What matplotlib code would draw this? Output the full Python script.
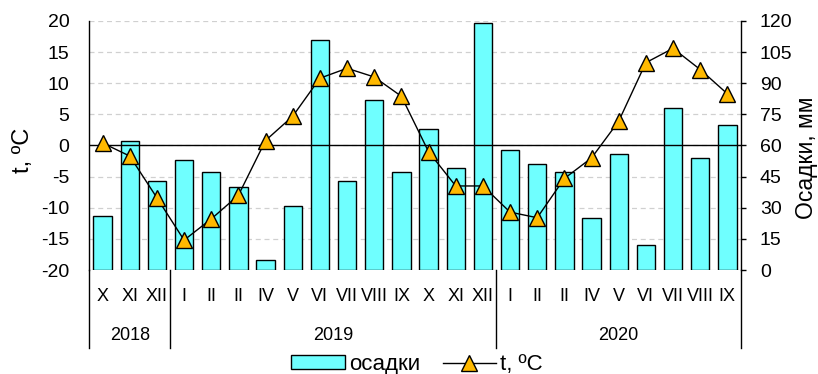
import matplotlib.pyplot as plt
import matplotlib.transforms as mtransforms
from matplotlib import font_manager
from matplotlib.patches import Patch
from matplotlib.lines import Line2D

months = ['X', 'XI', 'XII', 'I', 'II', 'II', 'IV', 'V', 'VI', 'VII', 'VIII', 'IX',
          'X', 'XI', 'XII', 'I', 'II', 'II', 'IV', 'V', 'VI', 'VII', 'VIII', 'IX']
years = ['2018', '2019', '2020']
year_len = [3, 12, 9]
precip = [26, 62, 43, 53, 47, 40, 5, 31, 111, 43, 82, 47,
          68, 49, 119, 58, 51, 47, 25, 56, 12, 78, 54, 70]
temp = [0.4, -1.7, -8.4, -15.2, -11.8, -8.0, 0.8, 4.7, 10.8, 12.4, 11.0, 7.9,
        -1.0, -6.5, -6.5, -10.7, -11.6, -5.3, -2.0, 3.9, 13.3, 15.6, 12.2, 8.3]

plt.rcParams['font.family'] = ['Liberation Sans', 'DejaVu Sans']
plt.rcParams['axes.unicode_minus'] = False
names = {f.name for f in font_manager.fontManager.ttflist}
if 'Liberation Sans Narrow' in names:
    cat_font = dict(family=['Liberation Sans Narrow', 'DejaVu Sans'], fontsize=14.5)
else:
    cat_font = dict(family=['Liberation Sans', 'DejaVu Sans'], fontsize=13)

fig = plt.figure(figsize=(8.18, 3.74), dpi=100)
ax1 = fig.add_axes([0.1088, 0.278, 0.797, 0.666])
ax2 = ax1.twinx()
ax1.set_zorder(ax2.get_zorder() + 1)
ax1.patch.set_visible(False)

x = list(range(len(months)))

# precipitation bars on the right axis
ax2.bar(x, precip, width=0.675, color='#6FFFFF', edgecolor='black', linewidth=1, zorder=3)
ax2.set_ylim(0, 120)
ax2.set_yticks(range(0, 121, 15))
ax2.yaxis.grid(True, linestyle=(0, (4, 3)), color='#D0D0D0', linewidth=0.9, zorder=0)
ax2.set_axisbelow(True)

# temperature line on the left axis
ax1.axhline(0, color='black', linewidth=1, zorder=2)
ax1.plot(x, temp, color='black', linewidth=1, marker='^', markersize=11.5,
         markerfacecolor='#FFB900', markeredgecolor='black', markeredgewidth=1, zorder=4)
ax1.set_ylim(-20, 20)
ax1.set_yticks(range(-20, 21, 5))
ax1.set_xlim(-0.5, len(months) - 0.5)
ax1.set_xticks([])

for a in (ax1, ax2):
    for s in ('top', 'bottom'):
        a.spines[s].set_visible(False)
ax2.spines['left'].set_visible(False)
ax1.spines['right'].set_visible(False)
ax1.spines['left'].set_linewidth(1)
ax2.spines['right'].set_linewidth(1)

ax1.tick_params(axis='y', length=0, pad=14, labelsize=14)
ax2.tick_params(axis='y', length=3.6, width=1, pad=10, labelsize=14, direction='out')

# axis titles
fig.text(23 / 818, 1 - 150 / 374, 't, ºC', rotation=90, fontsize=17, ha='center', va='center')
fig.text(806 / 818, 1 - 158 / 374, 'Осадки, мм', rotation=90, fontsize=16.5,
         ha='center', va='center')

# two-level category axis: months, then years
trans = mtransforms.blended_transform_factory(ax1.transData, ax1.transAxes)
for i, m in enumerate(months):
    ax1.text(i, -0.105, m, transform=trans, ha='center', va='center', **cat_font)

start = 0
bounds = [-0.5]
for y, n in zip(years, year_len):
    ax1.text(start + (n - 1) / 2, -0.262, y, transform=trans, ha='center', va='center', **cat_font)
    start += n
    bounds.append(start - 0.5)
for b in bounds:
    ax1.plot([b, b], [0, -0.313], transform=trans, color='black', linewidth=1, clip_on=False)

handles = [Patch(facecolor='#6FFFFF', edgecolor='black', linewidth=1),
           Line2D([], [], color='black', linewidth=1, marker='^', markersize=11.5,
                  markerfacecolor='#FFB900', markeredgecolor='black')]
fig.legend(handles, ['осадки', 't, ºC'], loc='center', bbox_to_anchor=(0.51, 0.025),
           ncol=2, frameon=False, fontsize=16, handlelength=2.4, handleheight=0.6,
           handletextpad=0.2, columnspacing=1.0, borderpad=0)

fig.savefig('out.png', dpi=100)
